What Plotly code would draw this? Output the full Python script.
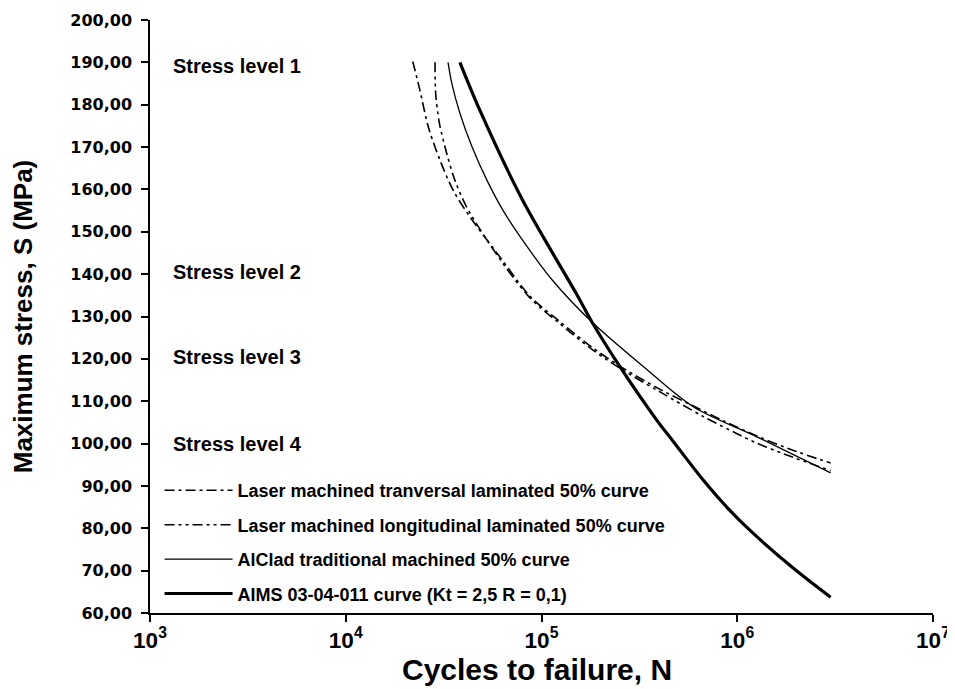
import plotly.graph_objects as go

# ---- data ----
trans_N = [22000, 23900, 26400, 30300, 35400, 43000, 61200, 87300, 124000,
           184000, 272000, 403000, 571000, 847000, 1260000, 1850000, 3000000]
trans_S = [190.2, 183.5, 174.8, 166.9, 159.8, 153.6, 144.1, 134.8, 128.8,
           122.5, 117.3, 112.8, 109.3, 105.4, 101.8, 98.7, 95.4]

long_N = [28600, 28800, 30100, 32800, 36100, 41400, 61200, 87300, 124000,
          184000, 272000, 403000, 670000, 991000, 1260000, 1790000, 3000000]
long_S = [190.0, 182.7, 175.6, 168.5, 162.2, 155.9, 143.6, 134.4, 128.3,
          122.0, 116.8, 112.2, 106.4, 102.4, 100.1, 97.3, 93.6]

alclad_N = [33300, 34800, 38300, 44200, 52600, 63500, 77600, 114000, 181000,
            331000, 596000, 1260000, 3000000]
alclad_S = [190.0, 185.1, 178.0, 170.0, 162.2, 155.1, 148.9, 138.5, 128.7,
            118.2, 108.7, 101.6, 93.1]

aims_N = [38300, 48400, 80000, 151000, 181000, 251000, 387000, 471000,
          675000, 896000, 1200000, 1930000, 3000000]
aims_S = [190.0, 178.7, 157.5, 135.3, 128.7, 118.2, 105.6, 100.5,
          91.2, 84.7, 78.9, 70.6, 63.7]

series_names = [
    "Laser machined tranversal laminated 50% curve",
    "Laser machined longitudinal laminated 50% curve",
    "AlClad traditional machined 50% curve",
    "AIMS 03-04-011 curve (Kt = 2,5 R = 0,1)",
]

stress_labels = ["Stress level 1", "Stress level 2", "Stress level 3", "Stress level 4"]
stress_label_S = [189.2, 140.6, 120.4, 99.8]

y_ticks = list(range(60, 201, 10))

x_title = "Cycles to failure, N"
y_title = "Maximum stress, S (MPa)"

# ---- figure ----
fig = go.Figure()
series = [
    (trans_N, trans_S, dict(color="black", width=1.6, dash="10px,4px,3px,4px")),
    (long_N, long_S, dict(color="black", width=1.6, dash="10px,4px,3px,4px,3px,4px")),
    (alclad_N, alclad_S, dict(color="black", width=1.3)),
    (aims_N, aims_S, dict(color="black", width=3.2)),
]
for i, ((xs, ys, ln), name) in enumerate(zip(series, series_names)):
    fig.add_trace(go.Scatter(
        x=xs, y=ys, mode="lines", name=name,
        line=dict(shape="spline", smoothing=0.9, **ln),
        legendgroup=f"g{i}",
    ))

txt_family = "Liberation Sans, Arial, sans-serif"
for txt, s in zip(stress_labels, stress_label_S):
    fig.add_annotation(
        x=0.027, xref="paper", y=s, yref="y", text=txt, showarrow=False,
        xanchor="left", yanchor="middle",
        font=dict(family=txt_family, size=20, color="black", weight="bold"),
    )

# x-axis title
fig.add_annotation(
    x=0.494, xref="paper", y=0, yref="paper", yshift=-56,
    text=x_title, showarrow=False, xanchor="center", yanchor="middle",
    font=dict(family=txt_family, size=30, color="black", weight="bold"),
)

# page body has an 8px margin, so the figure is sized/offset to fit the window
fig.update_layout(
    width=947, height=681,
    margin=dict(l=142, r=22, t=12, b=76),
    paper_bgcolor="white", plot_bgcolor="white",
    separators=", ",
    showlegend=True,
    legend=dict(
        x=0.0122, y=0.2376, xanchor="left", yanchor="top",
        bgcolor="rgba(0,0,0,0)",
        font=dict(family=txt_family, size=18, color="black", weight="bold"),
        traceorder="grouped", tracegroupgap=8, itemwidth=68,
    ),
    xaxis=dict(
        type="log", range=[3, 7], dtick=1, exponentformat="power",
        automargin=False,
        showgrid=False, zeroline=False,
        showline=True, linecolor="black", linewidth=1.5,
        ticks="outside", ticklen=7, tickcolor="black", tickwidth=1.5,
        tickfont=dict(family=txt_family, size=18, color="black", weight="bold"),
    ),
    yaxis=dict(
        range=[60, 200], tickvals=y_ticks, tickformat=".2f",
        automargin=False,
        showgrid=False, zeroline=False,
        showline=True, linecolor="black", linewidth=1.5,
        ticks="outside", ticklen=7, tickcolor="black", tickwidth=1.5,
        tickfont=dict(family="DejaVu Sans, sans-serif", size=16, color="black", weight="bold"),
        ticklabelstandoff=6,
        title=dict(text=y_title,
                   font=dict(family=txt_family, size=26, color="black", weight="bold"),
                   standoff=30),
    ),
)

fig.write_html("out.html")
